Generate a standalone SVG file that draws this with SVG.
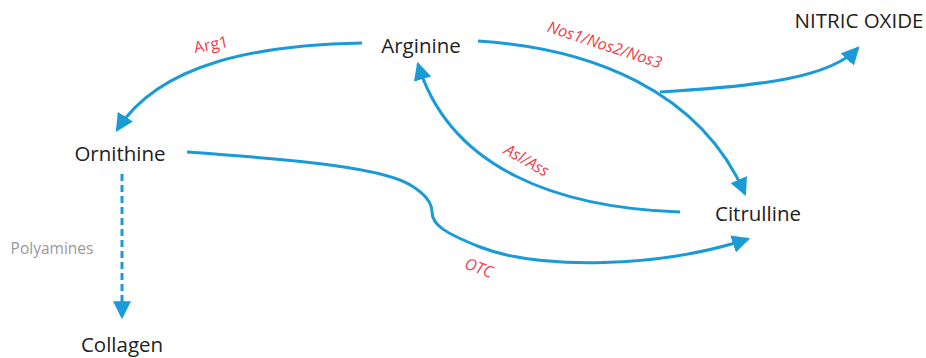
<svg xmlns="http://www.w3.org/2000/svg" width="926" height="358" viewBox="0 0 926 358">
<style>
.node{font-family:"Open Sans","Liberation Sans",sans-serif;font-size:20.5px;fill:#222;text-anchor:middle}
.lab{font-family:"Open Sans","Liberation Sans",sans-serif;font-size:16px;fill:#f0404a;text-anchor:middle}
.it{font-style:italic}
.gray{font-family:"Open Sans","Liberation Sans",sans-serif;font-size:15.5px;fill:#999;text-anchor:middle}
.c{fill:none;stroke:#1a9bd7;stroke-width:3;stroke-linecap:butt}
</style>
<defs>
<marker id="ah" markerUnits="userSpaceOnUse" markerWidth="18" markerHeight="18" viewBox="0 0 16 16" refX="14" refY="8" orient="auto">
<path d="M0,0 L16,8 L0,16 Z" fill="#1a9bd7"/>
</marker>
</defs>
<rect width="926" height="358" fill="#fff"/>
<g id="connectors">
<path class="c" marker-end="url(#ah)" d="M362,43 C260,45 160,62 117,130"/>
<path class="c" marker-end="url(#ah)" d="M478,41 C590,48 700,90 745,194"/>
<path class="c" marker-end="url(#ah)" d="M660,92 C760,86 830,78 858,48"/>
<path class="c" marker-end="url(#ah)" d="M680,212 C560,208 450,170 418,64"/>
<path class="c" marker-end="url(#ah)" d="M187,152 C300,160 385,168 412,186 C428,196 432,205 432,212 C432,225 445,233 480,247 C540,270 660,268 748,239"/>
<path class="c" marker-end="url(#ah)" stroke-dasharray="7,4" d="M122,174 L122,317"/>
</g>
<g id="arginine"><text class="node" x="421" y="53">Arginine</text></g>
<g id="ornithine"><text class="node" x="120" y="161">Ornithine</text></g>
<g id="citrulline"><text class="node" x="758" y="221">Citrulline</text></g>
<g id="collagen"><text class="node" x="122" y="352">Collagen</text></g>
<g id="nitric-oxide"><text class="node" x="859" y="28">NITRIC OXIDE</text></g>
<g id="labels">
<text class="lab" transform="translate(212,50) rotate(-11)">Arg1</text>
<text class="lab it" transform="translate(603,50) rotate(18)">Nos1/Nos2/Nos3</text>
<text class="lab it" transform="translate(524,165) rotate(30)">Asl/Ass</text>
<text class="lab it" transform="translate(477,273) rotate(20)">OTC</text>
<text class="gray" x="52" y="254">Polyamines</text>
</g>
</svg>
